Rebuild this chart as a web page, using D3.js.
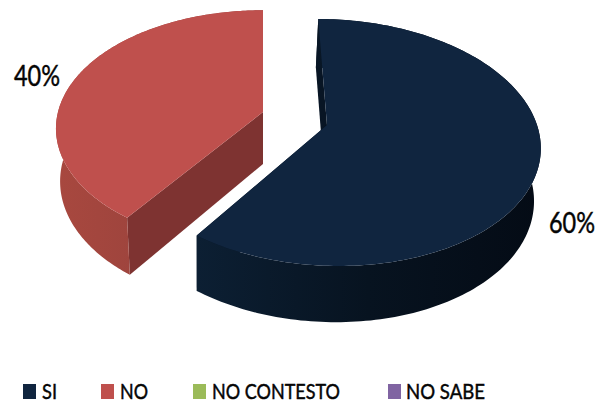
<!DOCTYPE html>
<html>
<head>
<meta charset="utf-8">
<style>
  html, body { margin: 0; padding: 0; background: #fff; }
  svg { display: block; }
  text { font-family: Lato, "Open Sans", sans-serif; fill: #050505; stroke: #050505; stroke-width: 0.45; font-weight: 400; }
</style>
<script src="https://cdn.jsdelivr.net/npm/d3@7/dist/d3.min.js"></script>
</head>
<body>
<svg id="chart" width="606" height="404"></svg>
<script>
// Survey answers
const categories = ["SI", "NO", "NO CONTESTO", "NO SABE"];
const values = [60, 40, 0, 0];
const labels = ["60%", "40%", "", ""];

// Office-style palette: top face, side wall shades
const topColors = ["#10253f", "#bf504d", "#9bbb59", "#8064a2"];
const sideFrom = ["#0c1f33", "#a8483f"];
const sideTo = ["#040b15", "#8f3e3a"];
const wallColors = ["#081524", "#7e3331"];

// Perspective disc for each exploded slice
const discs = [
  { ox: 327, oy: 125, rx: 210, ry: 121, k: 0.1417, shear: 10, vx: 200, s: 0.98, d0: 52, d1: 0.03 },
  { ox: 263, oy: 112, rx: 205, ry: 116, k: 0.14, shear: 0, vx: 263, s: 0.98, d0: 52, d1: 0.047 }
];
const labelBoxes = [
  { x: 549, y: 233, w: 46 },
  { x: 14, y: 86, w: 46 }
];
const legendSwatchX = [23, 101, 193, 388];
const legendTextX = [42, 120, 212, 406];
const legendTextW = [15, 28, 128, 79];

const svg = d3.select("#chart");
const defs = svg.append("defs");

// Maps an angle on the pie to the upper rim of the tilted disc
function rimTop(disc, angle, radius = 1) {
  const x = Math.sin(angle) * radius;
  const y = -Math.cos(angle) * radius;
  const w = 1 - disc.k * y;
  return [disc.ox + (disc.rx * x + disc.shear * y) / w, disc.oy + disc.ry * y / w];
}

// Drops a point of the upper rim to the lower rim of the extrusion
function lower(disc, p) {
  return [
    disc.vx + (p[0] - disc.vx) * disc.s,
    p[1] + disc.d0 + disc.d1 * (p[1] - disc.oy)
  ];
}

const pie = d3.pie().sort(null).value(d => d);
const arcs = pie(values);
const line = d3.line().curve(d3.curveLinear);

arcs.forEach((a, i) => {
  if (a.data <= 0) return;
  const disc = discs[i];
  const steps = d3.range(0, 181).map(t => a.startAngle + (a.endAngle - a.startAngle) * t / 180);
  const rim = steps.map(t => rimTop(disc, t));
  const apex = rimTop(disc, 0, 0);
  const g = svg.append("g");

  const gradId = "side" + i;
  const grad = defs.append("linearGradient").attr("id", gradId);
  if (i === 0) {
    grad.append("stop").attr("offset", "0").attr("stop-color", sideFrom[i]);
    grad.append("stop").attr("offset", "0.5").attr("stop-color", "#071320");
    grad.append("stop").attr("offset", "1").attr("stop-color", sideTo[i]);
  } else {
    grad.append("stop").attr("offset", "0").attr("stop-color", sideFrom[i]);
    grad.append("stop").attr("offset", "1").attr("stop-color", sideTo[i]);
  }

  // Radial walls at both cut edges
  [rim[0], rim[rim.length - 1]].forEach(edge => {
    g.append("path")
      .attr("d", line([apex, edge, lower(disc, edge), lower(disc, apex)]) + "Z")
      .attr("fill", wallColors[i]);
  });

  // Outer curved wall
  g.append("path")
    .attr("d", line(rim.concat(rim.map(p => lower(disc, p)).reverse())) + "Z")
    .attr("fill", `url(#${gradId})`);

  // Top face
  g.append("path")
    .attr("d", line([apex].concat(rim)) + "Z")
    .attr("fill", topColors[i]);

  // Percentage label
  svg.append("text")
    .attr("x", labelBoxes[i].x)
    .attr("y", labelBoxes[i].y)
    .attr("font-size", 29)
    .attr("textLength", labelBoxes[i].w)
    .attr("lengthAdjust", "spacingAndGlyphs")
    .text(labels[i]);
});

// Legend row
const legend = svg.append("g").selectAll("g").data(categories).join("g");
legend.append("rect")
  .attr("x", (d, i) => legendSwatchX[i])
  .attr("y", 384)
  .attr("width", 13)
  .attr("height", 15)
  .attr("fill", (d, i) => topColors[i]);
legend.append("text")
  .attr("x", (d, i) => legendTextX[i])
  .attr("y", 399)
  .attr("font-size", 21)
  .attr("textLength", (d, i) => legendTextW[i])
  .attr("lengthAdjust", "spacingAndGlyphs")
  .text(d => d);
</script>
</body>
</html>
